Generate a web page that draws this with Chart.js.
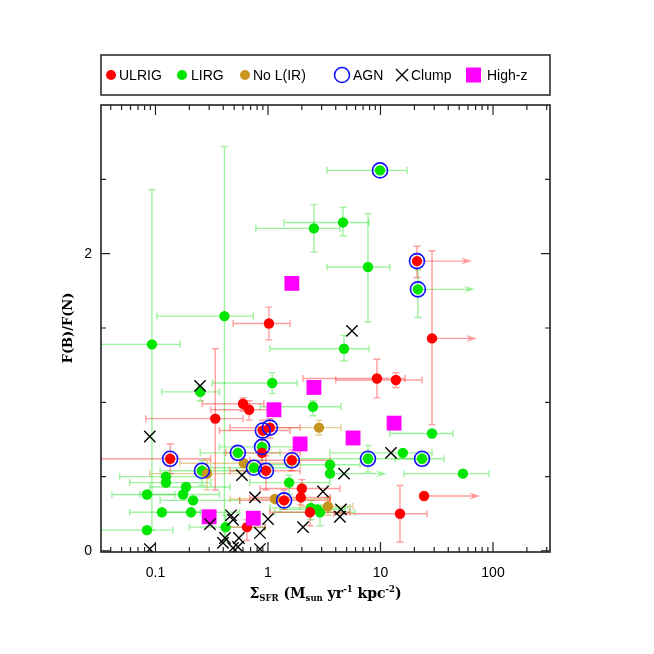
<!DOCTYPE html>
<html>
<head>
<meta charset="utf-8">
<script src="https://cdn.jsdelivr.net/npm/chart.js@4.4.1/dist/chart.umd.min.js"></script>
<style>
html, body { margin: 0; padding: 0; background: #fff; }
#wrap { width: 654px; height: 654px; }
</style>
</head>
<body>
<div id="wrap"><canvas id="sfr-chart" width="654" height="654"></canvas></div>
<script>
// rows: [x, y, xlo, xhi, ylo, yhi, lowerLimit]
const ulrig = [
  [21.1, 1.95, 21.1, 65, 1.84, 2.05, 1],
  [28.7, 1.43, 28.7, 72, 0.85, 2.02, 1],
  [1.02, 1.53, 0.49, 1.57, 1.42, 1.64, 0],
  [9.3, 1.16, 2.05, 16.5, 1.03, 1.29, 0],
  [13.7, 1.15, 4.0, 23.4, 1.10, 1.20, 0],
  [24.4, 0.37, 24.4, 77, 0.37, 0.37, 1],
  [14.9, 0.25, 3.86, 25.9, 0.06, 0.44, 0],
  [0.60, 0.99, 0.26, 0.92, 0.94, 1.03, 0],
  [0.68, 0.95, 0.31, 1.04, 0.88, 1.01, 0],
  [0.34, 0.89, 0.082, 0.60, 0.41, 1.36, 0],
  [0.90, 0.81, 0.37, 1.57, 0.75, 0.88, 0],
  [1.04, 0.83, 0.46, 1.93, 0.76, 0.89, 0],
  [0.135, 0.62, 0.033, 0.31, 0.52, 0.72, 0],
  [0.885, 0.66, 0.42, 1.93, 0.58, 0.75, 0],
  [0.96, 0.54, 0.46, 1.93, 0.41, 0.64, 0],
  [1.63, 0.61, 0.69, 3.56, 0.54, 0.68, 0],
  [2.0, 0.42, 0.85, 4.36, 0.34, 0.48, 0],
  [1.96, 0.36, 0.69, 3.56, 0.31, 0.41, 0],
  [1.39, 0.34, 0.56, 3.56, 0.28, 0.41, 0],
  [2.36, 0.26, 1.04, 5.35, 0.17, 0.31, 0],
  [0.65, 0.16, 0.42, 0.94, 0.07, 0.21, 0]
];

const lirg = [
  [9.9, 2.56, 3.35, 17.2, 2.56, 2.56, 0],
  [2.56, 2.17, 0.78, 4.36, 2.01, 2.33, 0],
  [4.64, 2.21, 1.39, 7.9, 2.12, 2.31, 0],
  [7.74, 1.91, 3.35, 12.1, 1.54, 2.27, 0],
  [21.5, 1.76, 21.5, 69, 1.57, 1.89, 1],
  [4.74, 1.36, 1.04, 7.9, 1.28, 1.45, 0],
  [0.41, 1.58, 0.103, 0.74, 0.07, 2.72, 0],
  [0.093, 1.39, 0.033, 0.165, 0.14, 2.43, 0],
  [0.25, 1.07, 0.114, 0.37, 1.01, 1.11, 0],
  [1.09, 1.13, 0.32, 1.81, 1.06, 1.20, 0],
  [2.51, 0.97, 0.85, 4.45, 0.91, 1.01, 0],
  [28.7, 0.79, 12.1, 44, 0.79, 0.79, 0],
  [15.8, 0.66, 3.56, 28.7, 0.66, 0.66, 0],
  [54, 0.52, 16.2, 92, 0.52, 0.52, 0],
  [7.74, 0.62, 1.57, 27, 0.53, 0.71, 0],
  [23.4, 0.62, 13.5, 36.7, 0.62, 0.62, 0],
  [3.56, 0.58, 1.04, 6.58, 0.58, 0.58, 0],
  [3.56, 0.52, 3.56, 11.4, 0.52, 0.52, 1],
  [1.54, 0.46, 0.69, 3.56, 0.38, 0.51, 0],
  [2.41, 0.29, 1.04, 5.35, 0.21, 0.34, 0],
  [2.73, 0.28, 1.28, 4.84, 0.28, 0.28, 0],
  [2.9, 0.26, 1.15, 5.93, 0.17, 0.31, 0],
  [0.42, 0.16, 0.20, 0.94, 0.07, 0.24, 0],
  [0.124, 0.50, 0.048, 0.25, 0.50, 0.50, 0],
  [0.124, 0.46, 0.059, 0.31, 0.46, 0.46, 0],
  [0.187, 0.43, 0.089, 0.46, 0.43, 0.43, 0],
  [0.176, 0.38, 0.073, 0.37, 0.38, 0.38, 0],
  [0.216, 0.34, 0.11, 0.56, 0.34, 0.34, 0],
  [0.084, 0.38, 0.041, 0.149, 0.38, 0.38, 0],
  [0.114, 0.26, 0.059, 0.25, 0.26, 0.26, 0],
  [0.207, 0.26, 0.11, 0.56, 0.26, 0.26, 0],
  [0.084, 0.14, 0.033, 0.143, 0.14, 0.14, 0],
  [0.259, 0.54, 0.11, 0.69, 0.44, 0.61, 0],
  [0.54, 0.66, 0.25, 1.28, 0.66, 0.66, 0],
  [0.885, 0.70, 0.37, 1.93, 0.61, 0.81, 0],
  [0.75, 0.56, 0.31, 1.57, 0.56, 0.56, 0]
];

const noLir = [
  [0.287, 0.52, 0.089, 0.69, 0.41, 0.61, 0],
  [0.61, 0.59, 0.165, 1.93, 0.59, 0.59, 0],
  [2.84, 0.83, 0.82, 4.45, 0.78, 0.88, 0],
  [3.41, 0.30, 1.93, 5.7, 0.24, 0.36, 0],
  [1.15, 0.35, 0.46, 3.56, 0.35, 0.35, 0]
];

// [x, y]
const highZ = [[1.63, 1.80], [2.56, 1.10], [1.13, 0.95], [1.93, 0.72], [5.7, 0.76], [13.2, 0.86], [0.30, 0.23], [0.74, 0.22]];

const clump = [
  [5.58, 1.48], [0.249, 1.11], [0.089, 0.77], [0.587, 0.51], [0.766, 0.36], [3.08, 0.40],
  [12.4, 0.66], [4.74, 0.52], [4.45, 0.28], [4.36, 0.23], [2.05, 0.16], [1.0, 0.215],
  [0.469, 0.24], [0.489, 0.21], [0.305, 0.18], [0.415, 0.087], [0.398, 0.054], [0.552, 0.087],
  [0.541, 0.027], [0.849, 0.121], [0.849, 0.013], [0.089, 0.013], [0.489, 0.02]
];

const agn = [
  [9.9, 2.56], [21.1, 1.95], [21.5, 1.76], [0.135, 0.62], [0.259, 0.54], [0.54, 0.66],
  [0.885, 0.70], [0.90, 0.81], [1.04, 0.83], [0.75, 0.56], [0.96, 0.54], [1.63, 0.61],
  [1.39, 0.34], [7.74, 0.62], [23.4, 0.62]
];

// axes
const xTickValues = [0.1, 1, 10, 100];
const xTickLabels = ['0.1', '1', '10', '100'];
const yTickValues = [0, 2];
const yTickLabels = ['0', '2'];
const yMinorTicks = [0.5, 1, 1.5, 2.5];
const yTitle = 'F(B)/F(N)';
// [text, 0 normal / -1 sub / 1 sup]
const xTitle = [['Σ', 0], ['SFR', -1], [' (M', 0], ['sun', -1], [' yr', 0], ['-1', 1], [' kpc', 0], ['-2', 1], [')', 0]];

const RED = '#ff0000', GREEN = '#00e600', GOLD = '#c8961e', MAGENTA = '#ff00ff', BLUE = '#1010ff';

const xMinorTicks = [];
for (let e = -2; e <= 2; e++) {
  for (let m = 2; m <= 9; m++) xMinorTicks.push(m * Math.pow(10, e));
}

const toPoints = rows => rows.map(r => ({ x: r[0], y: r[1] }));

// error bars and limit arrows, drawn behind the markers
function drawErrors(chart, rows, color) {
  const ctx = chart.ctx, xs = chart.scales.x, ys = chart.scales.y;
  const cap = 3.5;
  ctx.strokeStyle = color;
  ctx.fillStyle = color;
  ctx.lineWidth = 1.4;
  rows.forEach(r => {
    const px = xs.getPixelForValue(r[0]), py = ys.getPixelForValue(r[1]);
    const x0 = xs.getPixelForValue(r[2]), x1 = xs.getPixelForValue(r[3]);
    const y0 = ys.getPixelForValue(r[4]), y1 = ys.getPixelForValue(r[5]);
    if (r[6]) {
      ctx.beginPath();
      ctx.moveTo(px, py);
      ctx.lineTo(x1 - 7, py);
      ctx.stroke();
      ctx.beginPath();
      ctx.moveTo(x1, py);
      ctx.lineTo(x1 - 11, py - 3.5);
      ctx.lineTo(x1 - 7, py);
      ctx.lineTo(x1 - 11, py + 3.5);
      ctx.closePath();
      ctx.fill();
    } else if (x1 - x0 > 1) {
      ctx.beginPath();
      ctx.moveTo(x0, py); ctx.lineTo(x1, py);
      ctx.moveTo(x0, py - cap); ctx.lineTo(x0, py + cap);
      ctx.moveTo(x1, py - cap); ctx.lineTo(x1, py + cap);
      ctx.stroke();
    }
    if (Math.abs(y1 - y0) > 1) {
      ctx.beginPath();
      ctx.moveTo(px, y0); ctx.lineTo(px, y1);
      ctx.moveTo(px - cap, y0); ctx.lineTo(px + cap, y0);
      ctx.moveTo(px - cap, y1); ctx.lineTo(px + cap, y1);
      ctx.stroke();
    }
  });
}

function drawRich(ctx, parts, cx, baseY) {
  const big = "bold 14px 'DejaVu Serif'", small = "bold 8.5px 'DejaVu Serif'";
  let w = 0;
  parts.forEach(p => { ctx.font = p[1] ? small : big; w += ctx.measureText(p[0]).width; });
  let x = cx - w / 2;
  ctx.textAlign = 'left';
  ctx.textBaseline = 'alphabetic';
  parts.forEach(p => {
    ctx.font = p[1] ? small : big;
    const dy = p[1] === -1 ? 3 : (p[1] === 1 ? -6 : 0);
    ctx.fillText(p[0], x, baseY + dy);
    x += ctx.measureText(p[0]).width;
  });
}

const decor = {
  id: 'decor',
  beforeDatasetsDraw(chart) {
    const ctx = chart.ctx, a = chart.chartArea;
    ctx.save();
    ctx.beginPath();
    ctx.rect(a.left, a.top, a.right - a.left, a.bottom - a.top);
    ctx.clip();
    drawErrors(chart, lirg, 'rgba(0, 220, 0, 0.38)');
    drawErrors(chart, noLir, 'rgba(200, 150, 30, 0.45)');
    drawErrors(chart, ulrig, 'rgba(255, 0, 0, 0.38)');
    ctx.restore();
  },
  afterDraw(chart) {
    const ctx = chart.ctx, a = chart.chartArea, xs = chart.scales.x, ys = chart.scales.y;
    ctx.save();
    ctx.strokeStyle = '#222';
    ctx.lineWidth = 1.2;
    ctx.beginPath();
    const xTick = (v, len) => {
      if (v < xs.min || v > xs.max) return;
      const p = xs.getPixelForValue(v);
      ctx.moveTo(p, a.bottom); ctx.lineTo(p, a.bottom - len);
      ctx.moveTo(p, a.top); ctx.lineTo(p, a.top + len);
    };
    const yTick = (v, len) => {
      const p = ys.getPixelForValue(v);
      ctx.moveTo(a.left, p); ctx.lineTo(a.left + len, p);
      ctx.moveTo(a.right, p); ctx.lineTo(a.right - len, p);
    };
    xTickValues.forEach(v => xTick(v, 10));
    xMinorTicks.forEach(v => xTick(v, 5));
    yTickValues.forEach(v => yTick(v, 9));
    yMinorTicks.forEach(v => yTick(v, 5));
    ctx.stroke();
    ctx.lineWidth = 1.6;
    ctx.strokeRect(a.left, a.top, a.right - a.left, a.bottom - a.top);

    // axis titles
    ctx.fillStyle = '#000';
    drawRich(ctx, xTitle, (a.left + a.right) / 2, 598);
    ctx.translate(69, 328);
    ctx.rotate(-Math.PI / 2);
    ctx.font = "bold 13px 'DejaVu Serif'";
    ctx.textAlign = 'center';
    ctx.textBaseline = 'middle';
    ctx.fillText(yTitle, 0, 0);
    ctx.restore();

    // legend box
    ctx.save();
    ctx.strokeStyle = '#222';
    ctx.lineWidth = 1.5;
    ctx.strokeRect(101, 55, 449, 40);
    const ly = 75;
    ctx.font = "14px 'Liberation Sans'";
    ctx.textBaseline = 'middle';
    ctx.textAlign = 'left';
    const dot = (x, c) => { ctx.fillStyle = c; ctx.beginPath(); ctx.arc(x, ly, 5, 0, 2 * Math.PI); ctx.fill(); };
    const label = (t, x) => { ctx.fillStyle = '#000'; ctx.fillText(t, x, ly + 1); };
    dot(111, RED); label(chart.data.datasets[3].label, 119);
    dot(182, GREEN); label(chart.data.datasets[5].label, 191);
    dot(245, GOLD); label(chart.data.datasets[4].label, 253);
    ctx.strokeStyle = BLUE; ctx.lineWidth = 1.6;
    ctx.beginPath(); ctx.arc(342, ly, 7.5, 0, 2 * Math.PI); ctx.stroke();
    label(chart.data.datasets[0].label, 353);
    ctx.strokeStyle = '#000'; ctx.lineWidth = 1.4;
    ctx.beginPath();
    ctx.moveTo(396, ly - 6); ctx.lineTo(408, ly + 6);
    ctx.moveTo(408, ly - 6); ctx.lineTo(396, ly + 6);
    ctx.stroke();
    label(chart.data.datasets[1].label, 411);
    ctx.fillStyle = MAGENTA; ctx.fillRect(466, ly - 7.5, 15, 15);
    label(chart.data.datasets[2].label, 487);
    ctx.restore();
  }
};

const canvas = document.getElementById('sfr-chart');

new Chart(canvas, {
  type: 'scatter',
  data: {
    datasets: [
      { label: 'AGN', data: toPoints(agn), pointStyle: 'circle', pointRadius: 7.5,
        backgroundColor: 'rgba(0,0,0,0)', borderColor: BLUE, borderWidth: 1.6, order: 0 },
      { label: 'Clump', data: toPoints(clump), pointStyle: 'crossRot', pointRadius: 8,
        borderColor: '#000', borderWidth: 1.4, order: 1 },
      { label: 'High-z', data: toPoints(highZ), pointStyle: 'rect', pointRadius: 10.5,
        backgroundColor: MAGENTA, borderWidth: 0, order: 2 },
      { label: 'ULRIG', data: toPoints(ulrig), pointStyle: 'circle', pointRadius: 5.2,
        backgroundColor: RED, borderWidth: 0, order: 3 },
      { label: 'No L(IR)', data: toPoints(noLir), pointStyle: 'circle', pointRadius: 5.2,
        backgroundColor: GOLD, borderWidth: 0, order: 4 },
      { label: 'LIRG', data: toPoints(lirg), pointStyle: 'circle', pointRadius: 5.2,
        backgroundColor: GREEN, borderWidth: 0, order: 5 }
    ]
  },
  options: {
    responsive: false,
    animation: false,
    events: [],
    layout: { padding: { left: 0, top: 105, right: 104, bottom: 0 } },
    plugins: { legend: { display: false }, tooltip: { enabled: false } },
    scales: {
      x: {
        type: 'logarithmic', min: 0.0328, max: 321,
        grid: { display: false, drawTicks: false },
        border: { display: false },
        afterBuildTicks: s => { s.ticks = xTickValues.map(v => ({ value: v })); },
        afterFit: s => { s.height = 102; },
        ticks: {
          autoSkip: false, maxRotation: 0, padding: 13, color: '#000',
          font: { family: 'Liberation Sans', size: 14 },
          callback: (v, i) => xTickLabels[i]
        }
      },
      y: {
        type: 'linear', min: -0.007, max: 3,
        grid: { display: false, drawTicks: false },
        border: { display: false },
        afterBuildTicks: s => { s.ticks = yTickValues.map(v => ({ value: v })); },
        afterFit: s => { s.width = 101; },
        ticks: {
          autoSkip: false, padding: 9, color: '#000',
          font: { family: 'Liberation Sans', size: 14 },
          callback: (v, i) => yTickLabels[i]
        }
      }
    }
  },
  plugins: [decor]
});
</script>
</body>
</html>
